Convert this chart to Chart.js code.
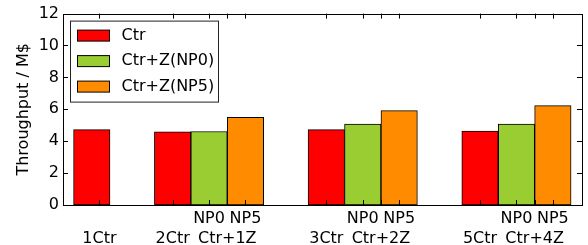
<!DOCTYPE html>
<html>
<head>
<meta charset="utf-8">
<script src="https://cdn.jsdelivr.net/npm/chart.js@4.4.1/dist/chart.umd.min.js"></script>
<style>
  body { margin: 0; background: #fff; }
  #wrap { width: 588px; height: 245px; }
</style>
</head>
<body>
<div id="wrap"><canvas id="myChart"></canvas></div>
<script>
// values
const ctrNames = ['1Ctr', '2Ctr', '3Ctr', '5Ctr'];
const zoneNames = ['', 'Ctr+1Z', 'Ctr+2Z', 'Ctr+4Z'];
const ctr = [4.73, 4.58, 4.73, 4.64];
const np0 = [null, 4.61, 5.08, 5.08];
const np5 = [null, 5.5, 5.92, 6.23];
const yTicks = [0, 2, 4, 6, 8, 10, 12];

// where each group sits on the x axis (in bar widths)
const groupX = [0.79, 3.01, 7.23, 11.45];
const ctrTickX = [1.0, 3.01, 7.23, 11.45];
const xMax = 14.25;

const seriesNames = ['Ctr', 'Ctr+Z(NP0)', 'Ctr+Z(NP5)'];
const colors = ['#ff0000', '#9acd32', '#ff8c00'];

function pts(vals, off) {
  var out = [];
  vals.forEach(function (v, i) {
    if (v !== null) out.push({ x: groupX[i] + off, y: v });
  });
  return out;
}

const font = 'DejaVu Sans';

// frame, inward ticks, x labels and legend, drawn like matplotlib
const decor = {
  id: 'decor',
  afterDatasetsDraw(chart) {
    var c = chart.ctx;
    var a = chart.chartArea;
    var xs = chart.scales.x;
    var ys = chart.scales.y;
    c.save();
    c.strokeStyle = '#000';
    c.lineWidth = 1;
    c.strokeRect(Math.round(a.left) + 0.5, Math.round(a.top) + 0.5,
      Math.round(a.right - a.left), Math.round(a.bottom - a.top));

    var tl = 5;
    var xt = [ctrTickX[0]];
    for (var i = 1; i < groupX.length; i++) {
      xt.push(ctrTickX[i], groupX[i] + 1, groupX[i] + 1.5, groupX[i] + 2);
    }
    c.beginPath();
    xt.forEach(function (v) {
      var px = Math.round(xs.getPixelForValue(v)) + 0.5;
      c.moveTo(px, a.bottom); c.lineTo(px, a.bottom - tl);
      c.moveTo(px, a.top); c.lineTo(px, a.top + tl);
    });
    yTicks.forEach(function (v) {
      var py = Math.round(ys.getPixelForValue(v)) + 0.5;
      c.moveTo(a.left, py); c.lineTo(a.left + tl, py);
      c.moveTo(a.right, py); c.lineTo(a.right - tl, py);
    });
    c.stroke();

    // x labels, two rows
    c.fillStyle = '#000';
    c.font = '16px "' + font + '"';
    c.textAlign = 'center';
    c.textBaseline = 'middle';
    var row1 = a.bottom + 14;
    var row2 = a.bottom + 34;
    for (var i = 0; i < groupX.length; i++) {
      c.fillText(ctrNames[i], xs.getPixelForValue(ctrTickX[i]), row2);
      if (np0[i] !== null) {
        c.fillText('NP0', xs.getPixelForValue(groupX[i] + 1), row1);
        c.fillText('NP5', xs.getPixelForValue(groupX[i] + 2), row1);
        c.fillText(zoneNames[i], xs.getPixelForValue(groupX[i] + 1.5), row2);
      }
    }

    // legend box in the upper left
    var lx = a.left + 7.5, ly = a.top + 7.5;
    c.fillStyle = '#fff';
    c.fillRect(lx, ly, 148, 81);
    c.strokeStyle = '#222';
    c.strokeRect(lx, ly, 148, 81);
    c.textAlign = 'left';
    chart.data.datasets.forEach(function (ds, k) {
      var cy = ly + 14.5 + k * 25.5;
      c.fillStyle = ds.backgroundColor;
      c.fillRect(lx + 7, cy - 5.5, 32, 11);
      c.strokeStyle = '#000';
      c.strokeRect(lx + 7, cy - 5.5, 32, 11);
      c.fillStyle = '#000';
      c.fillText(ds.label, lx + 51, cy);
    });
    c.restore();
  }
};

const ctx = document.getElementById('myChart');

new Chart(ctx, {
  type: 'bar',
  data: {
    datasets: [
      { label: seriesNames[0], data: pts(ctr, 0), backgroundColor: colors[0] },
      { label: seriesNames[1], data: pts(np0, 1), backgroundColor: colors[1] },
      { label: seriesNames[2], data: pts(np5, 2), backgroundColor: colors[2] }
    ]
  },
  options: {
    responsive: true,
    maintainAspectRatio: false,
    animation: false,
    layout: { padding: { left: 0, top: 13, right: 6, bottom: 40 } },
    datasets: {
      bar: {
        grouped: false,
        barPercentage: 1,
        categoryPercentage: 1,
        borderColor: '#000',
        borderWidth: 1,
        borderSkipped: false
      }
    },
    plugins: {
      legend: { display: false },
      tooltip: { enabled: false }
    },
    scales: {
      x: {
        type: 'linear',
        min: 0,
        max: xMax,
        display: false,
        afterBuildTicks: function (s) { s.ticks = []; }
      },
      y: {
        min: 0,
        max: 12,
        afterBuildTicks: function (s) { s.ticks = yTicks.map(function (v) { return { value: v }; }); },
        afterFit: function (s) { s.width = 63; },
        grid: { display: false, drawTicks: false },
        border: { display: false },
        ticks: { color: '#000', padding: 4, font: { family: font, size: 16 } },
        title: {
          display: true,
          text: 'Throughput / M$',
          color: '#000',
          padding: { top: 14, bottom: 0 },
          font: { family: font, size: 16 }
        }
      }
    }
  },
  plugins: [decor]
});
</script>
</body>
</html>
